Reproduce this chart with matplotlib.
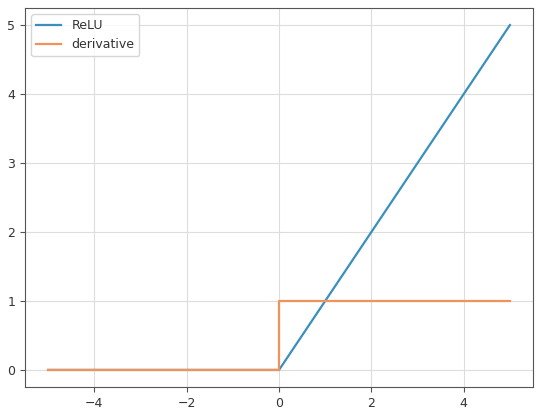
import matplotlib
matplotlib.use("Agg")
import matplotlib.pyplot as plt

relu_x = [-5, 0, 5]
relu_y = [0, 0, 5]
deriv_x = [-5, 0, 0, 5]
deriv_y = [0, 0, 1, 1]

fig = plt.figure(figsize=(5.45, 4.11), dpi=100)
ax = fig.add_axes([0.046, 0.058, 0.932, 0.923])
ax.plot(relu_x, relu_y, color="#3a8fbf", lw=1.6, label="ReLU")
ax.plot(deriv_x, deriv_y, color="#f0925a", lw=1.6, label="derivative")
ax.grid(True, color="#dddddd", lw=0.8)
leg = ax.legend(loc="upper left", fontsize=9)
for t in leg.get_texts():
    t.set_color("#333333")
ax.tick_params(labelsize=9, colors="#555555", labelcolor="#333333")
for s in ax.spines.values():
    s.set_color("#555555")
fig.savefig("out.png", dpi=100)
